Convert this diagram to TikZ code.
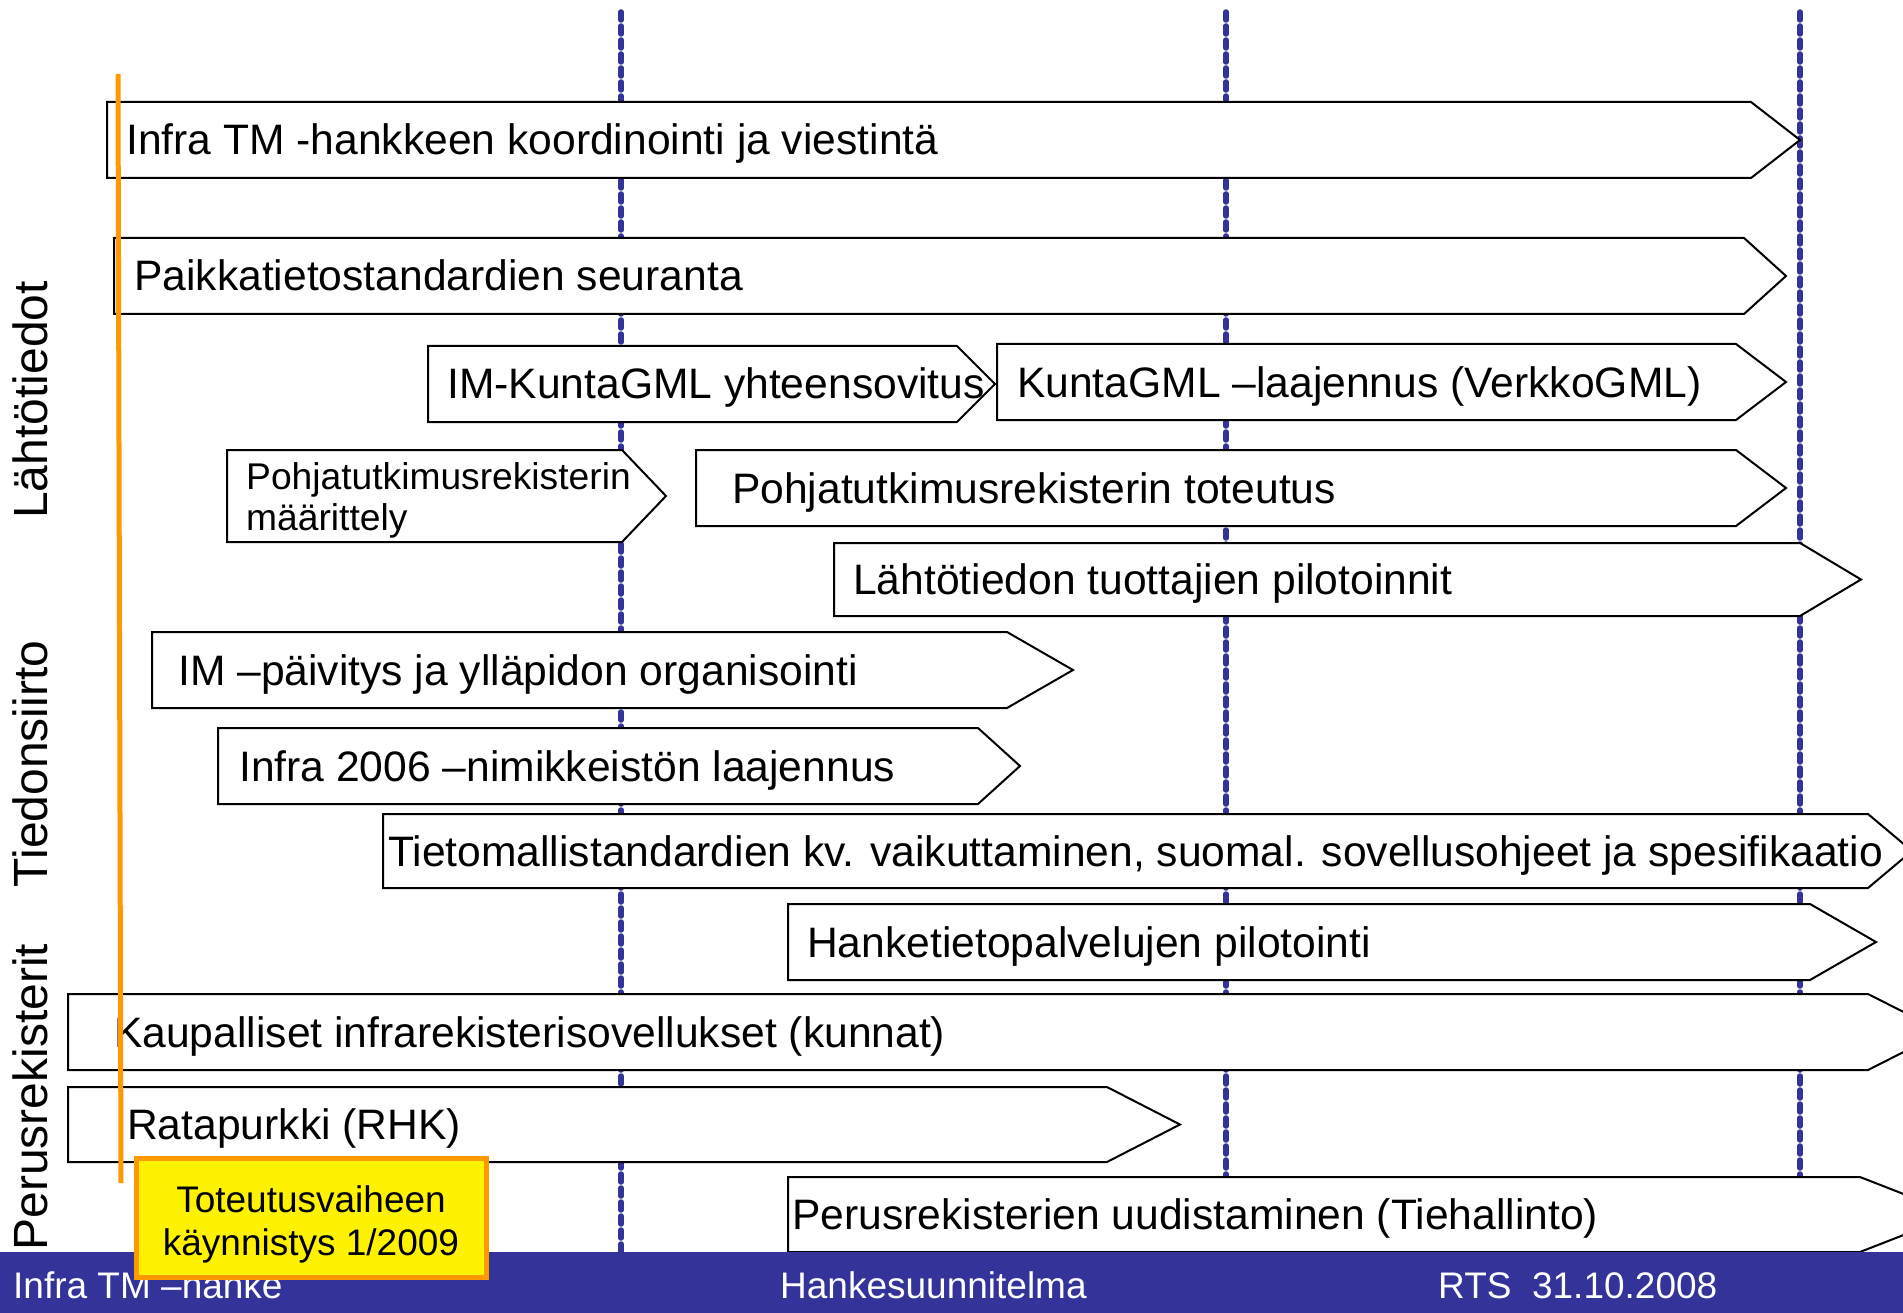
\documentclass[tikz,border=0pt]{standalone}
\usepackage{fontspec}
\setmainfont{Liberation Sans}
\definecolor{barblue}{RGB}{51,51,153}
\definecolor{msorange}{RGB}{255,153,0}
\newcommand\chevbox[8]{%
  \draw[boxline] (#2,#3) -- (#5,#3) -- (#6,{(#3+#4)/2}) -- (#5,#4) -- (#2,#4) -- cycle;
  \node[boxtext] (#1) at (#7,{(#3+#4)/2+15}) {#8};
}
\begin{document}
\begin{tikzpicture}[x=1pt,y=-1pt,
  boxline/.style={draw=black,fill=white,line width=2pt},
  boxtext/.style={anchor=base west,inner sep=0pt,font=\fontsize{42.6}{50}\selectfont},
  smalltext/.style={anchor=base west,inner sep=0pt,font=\fontsize{37.2}{44}\selectfont},
  sidelabel/.style={rotate=90,anchor=base,inner sep=0pt,font=\fontsize{48}{56}\selectfont},
  footertext/.style={anchor=base west,inner sep=0pt,text=white,font=\fontsize{37}{44}\selectfont},
  milestone/.style={draw=barblue,line width=5.5pt,line cap=round,dash pattern=on 8pt off 6pt},
  startline/.style={draw=msorange,line width=5pt},
  startbox/.style={draw=msorange,fill=yellow,line width=5pt},
  starttext/.style={anchor=base,inner sep=0pt,font=\fontsize{37}{44}\selectfont},
]
\useasboundingbox (0,0) rectangle (1903,1313);
\clip (0,0) rectangle (1903,1313);
\fill[white] (0,0) rectangle (1903,1313);

% milestone lines
\coordinate (m1t) at (621,12);   \coordinate (m1b) at (621,1252);
\coordinate (m2t) at (1226,12);  \coordinate (m2b) at (1226,1252);
\coordinate (m3t) at (1800,12);  \coordinate (m3b) at (1800,1252);
\draw[milestone] (m1t) -- (m1b);
\draw[milestone] (m2t) -- (m2b);
\draw[milestone] (m3t) -- (m3b);

% task boxes: name, left, top, bottom, straight end, tip, text x, text
\chevbox{t1}{107}{102}{178}{1751}{1800}{126}{Infra TM -hankkeen koordinointi ja viestintä}
\chevbox{t2}{114}{238}{314}{1744}{1786}{134}{Paikkatietostandardien seuranta}
\chevbox{t3}{428}{346}{422}{957}{995}{447}{IM-KuntaGML yhteensovitus}
\chevbox{t4}{997}{344}{420}{1736}{1786}{1017}{KuntaGML –laajennus (VerkkoGML)}
\draw[boxline] (227,450) -- (622,450) -- (666,496) -- (622,542) -- (227,542) -- cycle;
\node[smalltext] (t5a) at (246,489) {Pohjatutkimusrekisterin};
\node[smalltext] (t5b) at (246,530) {määrittely};
\chevbox{t6}{696}{450}{526}{1736}{1786}{732}{Pohjatutkimusrekisterin toteutus}
\chevbox{t7}{834}{543}{616}{1800}{1861}{853}{Lähtötiedon tuottajien pilotoinnit}
\chevbox{t8}{152}{632}{708}{1007}{1073}{178}{IM –päivitys ja ylläpidon organisointi}
\chevbox{t9}{218}{728}{804}{978}{1020}{239}{Infra 2006 –nimikkeistön laajennus}
\chevbox{t10}{383}{814}{888}{1868}{1912}{388}{Tietomallistandardien kv. vaikuttaminen, suomal. sovellusohjeet ja spesifikaatio}
\chevbox{t11}{788}{904}{980}{1810}{1876}{807}{Hanketietopalvelujen pilotointi}
\chevbox{t12}{68}{994}{1070}{1868}{1943}{114}{Kaupalliset infrarekisterisovellukset (kunnat)}
\chevbox{t13}{68}{1087}{1162}{1107}{1180}{127}{Ratapurkki (RHK)}
\chevbox{t14}{788}{1177}{1252}{1860}{1956}{792}{Perusrekisterien uudistaminen (Tiehallinto)}

% start line
\coordinate (s1) at (118,74);
\coordinate (s2) at (121,1183);
\draw[startline] (s1) -- (s2);

% side labels
\node[sidelabel] (l1) at (47,400) {Lähtötiedot};
\node[sidelabel] (l2) at (47,764) {Tiedonsiirto};
\node[sidelabel] (l3) at (47,1097) {Perusrekisterit};

% footer
\fill[barblue] (0,1252) rectangle (1903,1313);
\node[footertext] (f1) at (13,1298) {Infra TM –hanke};
\node[footertext] (f2) at (780,1298) {Hankesuunnitelma};
\node[footertext] (f3) at (1438,1298) {RTS\ \ 31.10.2008};

% start milestone box
\draw[startbox] (136,1158) rectangle (486,1277);
\node[starttext] (y1) at (311,1212) {Toteutusvaiheen};
\node[starttext] (y2) at (311,1255) {käynnistys 1/2009};
\end{tikzpicture}
\end{document}
